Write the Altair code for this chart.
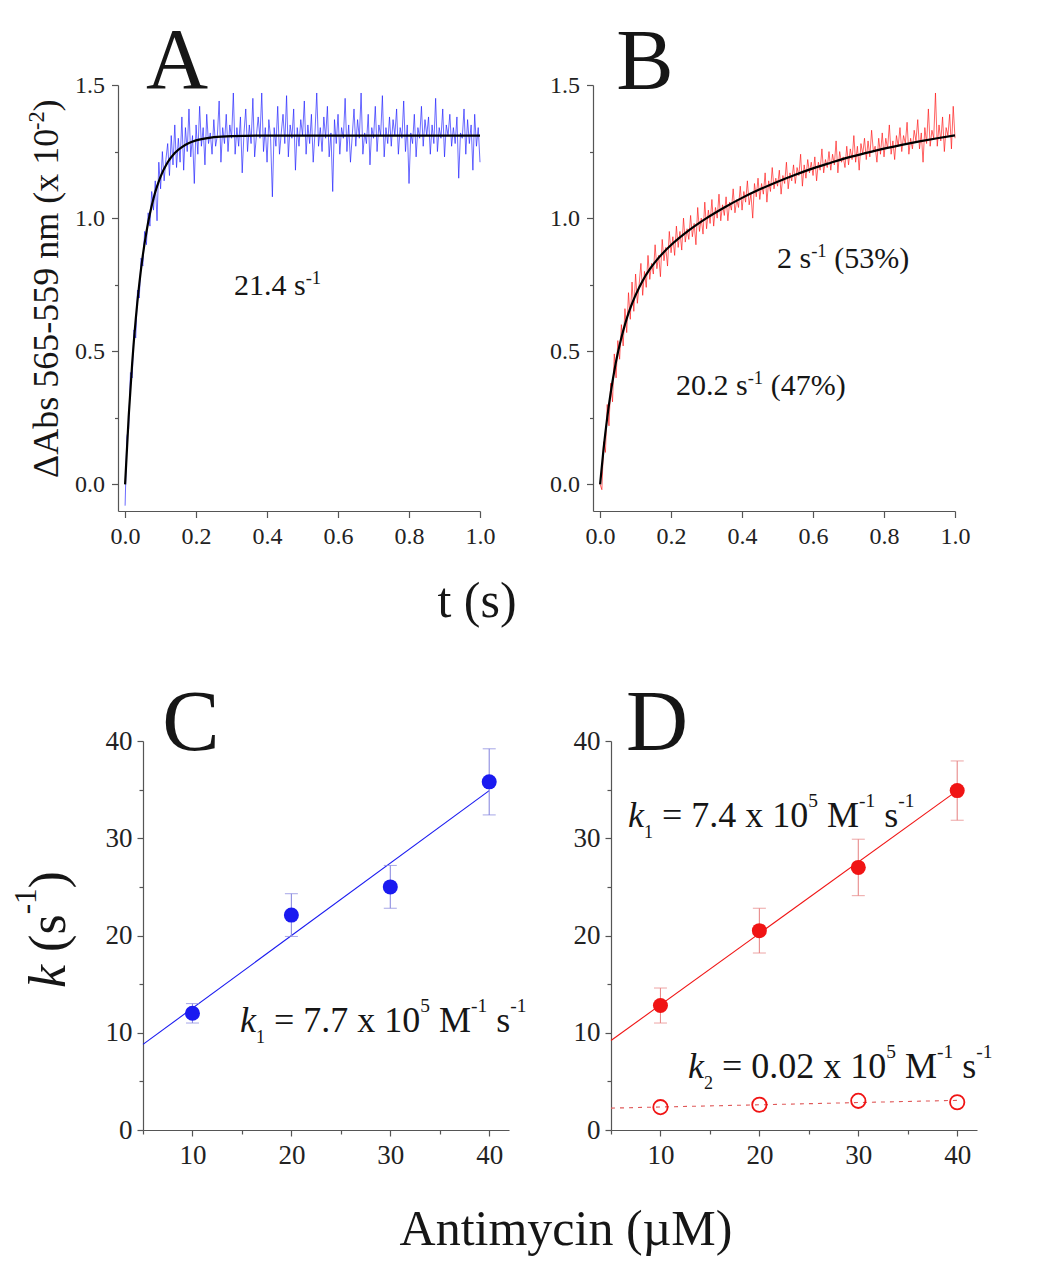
import altair as alt
import pandas as pd

FONT = "Liberation Serif"
INK = "#161616"
AXC = "#555555"

# ---------------- Panel A / B : stopped-flow traces ----------------
TIME = [round(i * 0.005, 3) for i in range(201)]

TRACE_A = [
    -0.08, 0.18, 0.21, 0.42, 0.40, 0.58, 0.55, 0.73, 0.70, 0.85,
    0.82, 0.95, 0.90, 1.02, 0.97, 1.10, 1.03, 1.14, 0.99, 1.21,
    1.11, 1.25, 1.14, 1.22, 1.28, 1.16, 1.31, 1.20, 1.35, 1.19,
    1.30, 1.21, 1.38, 1.18, 1.34, 1.25, 1.41, 1.23, 1.31, 1.13,
    1.35, 1.24, 1.42, 1.27, 1.34, 1.20, 1.39, 1.28, 1.32, 1.24,
    1.37, 1.27, 1.31, 1.44, 1.21, 1.34, 1.28, 1.39, 1.25, 1.35,
    1.30, 1.47, 1.24, 1.34, 1.27, 1.38, 1.17, 1.32, 1.41, 1.25,
    1.35, 1.28, 1.45, 1.23, 1.31, 1.38, 1.30, 1.47, 1.25, 1.34,
    1.21, 1.37, 1.30, 1.08, 1.34, 1.27, 1.42, 1.24, 1.32, 1.39,
    1.28, 1.46, 1.23, 1.35, 1.30, 1.41, 1.18, 1.34, 1.27, 1.37,
    1.31, 1.44, 1.24, 1.35, 1.28, 1.39, 1.21, 1.32, 1.47, 1.27,
    1.34, 1.25, 1.38, 1.30, 1.42, 1.23, 1.32, 1.10, 1.37, 1.28,
    1.39, 1.24, 1.34, 1.30, 1.45, 1.25, 1.35, 1.21, 1.31, 1.41,
    1.27, 1.37, 1.30, 1.47, 1.24, 1.32, 1.28, 1.39, 1.20, 1.34,
    1.30, 1.42, 1.25, 1.35, 1.31, 1.46, 1.23, 1.34, 1.28, 1.38,
    1.27, 1.37, 1.31, 1.41, 1.24, 1.34, 1.30, 1.44, 1.25, 1.35,
    1.13, 1.32, 1.28, 1.39, 1.23, 1.34, 1.30, 1.42, 1.27, 1.37,
    1.31, 1.38, 1.24, 1.35, 1.28, 1.45, 1.25, 1.34, 1.30, 1.41,
    1.23, 1.35, 1.31, 1.39, 1.27, 1.34, 1.28, 1.38, 1.15, 1.32,
    1.30, 1.41, 1.24, 1.37, 1.28, 1.35, 1.18, 1.39, 1.27, 1.34,
    1.21,
]

TRACE_B = [
    0.00, -0.02, 0.16, 0.12, 0.30, 0.22, 0.38, 0.31, 0.49, 0.40,
    0.54, 0.47, 0.60, 0.52, 0.66, 0.57, 0.72, 0.62, 0.76, 0.65,
    0.79, 0.68, 0.75, 0.83, 0.71, 0.80, 0.74, 0.86, 0.77, 0.83,
    0.79, 0.90, 0.81, 0.86, 0.78, 0.92, 0.84, 0.89, 0.82, 0.95,
    0.87, 0.93, 0.86, 0.97, 0.89, 0.95, 0.88, 1.00, 0.91, 0.96,
    0.92, 1.01, 0.93, 0.98, 0.90, 1.04, 0.95, 1.00, 0.94, 1.06,
    0.96, 1.03, 0.98, 1.07, 0.97, 1.04, 1.00, 1.09, 0.99, 1.05,
    1.01, 1.08, 0.99, 1.06, 1.03, 1.11, 1.02, 1.07, 1.04, 1.12,
    1.03, 1.10, 1.06, 1.14, 1.05, 1.09, 1.00, 1.13, 1.08, 1.15,
    1.07, 1.13, 1.09, 1.17, 1.06, 1.14, 1.10, 1.19, 1.11, 1.15,
    1.12, 1.18, 1.09, 1.16, 1.13, 1.21, 1.11, 1.17, 1.14, 1.20,
    1.13, 1.19, 1.16, 1.24, 1.12, 1.20, 1.15, 1.22, 1.17, 1.21,
    1.16, 1.23, 1.14, 1.21, 1.18, 1.26, 1.17, 1.22, 1.19, 1.25,
    1.18, 1.24, 1.20, 1.29, 1.17, 1.25, 1.21, 1.23, 1.19, 1.27,
    1.20, 1.26, 1.22, 1.31, 1.21, 1.27, 1.18, 1.28, 1.24, 1.30,
    1.22, 1.29, 1.23, 1.33, 1.25, 1.27, 1.21, 1.30, 1.24, 1.32,
    1.23, 1.30, 1.26, 1.35, 1.24, 1.29, 1.22, 1.31, 1.27, 1.34,
    1.25, 1.31, 1.28, 1.36, 1.24, 1.30, 1.26, 1.33, 1.29, 1.37,
    1.26, 1.32, 1.21, 1.34, 1.28, 1.41, 1.27, 1.33, 1.30, 1.47,
    1.27, 1.35, 1.29, 1.38, 1.25, 1.34, 1.31, 1.39, 1.26, 1.42,
    1.30,
]

FIT_A_T = [0, 0.01, 0.02, 0.03, 0.04, 0.05, 0.06, 0.07, 0.08, 0.09, 0.10,
           0.12, 0.14, 0.16, 0.18, 0.20, 0.25, 0.30, 0.40, 0.60, 0.80, 1.00]
FIT_A_V = [0, 0.252, 0.456, 0.621, 0.753, 0.861, 0.947, 1.017, 1.074, 1.119, 1.156,
           1.210, 1.245, 1.267, 1.282, 1.292, 1.304, 1.308, 1.310, 1.310, 1.310, 1.310]

FIT_B_T = [0, 0.01, 0.02, 0.03, 0.04, 0.05, 0.06, 0.07, 0.08, 0.09, 0.10,
           0.12, 0.14, 0.16, 0.18, 0.20, 0.25, 0.30, 0.35, 0.40, 0.45, 0.50,
           0.55, 0.60, 0.65, 0.70, 0.75, 0.80, 0.85, 0.90, 0.95, 1.00]
FIT_B_V = [0, 0.136, 0.250, 0.345, 0.426, 0.494, 0.551, 0.600, 0.643, 0.679, 0.711,
           0.765, 0.808, 0.843, 0.873, 0.899, 0.954, 1.000, 1.040, 1.076, 1.108, 1.137,
           1.163, 1.187, 1.208, 1.228, 1.245, 1.261, 1.275, 1.288, 1.300, 1.311]

# ---------------- Panel C / D : rate vs antimycin ----------------
CONC = [10, 20, 30, 40]
C_K = [12.0, 22.1, 25.0, 35.8]
C_ERR = [1.0, 2.2, 2.2, 3.4]
C_FIT_X = [5, 40]
C_FIT_Y = [8.8, 34.9]

D_K1 = [12.8, 20.5, 27.0, 34.9]
D_ERR1 = [1.8, 2.3, 2.9, 3.05]
D_K2 = [2.35, 2.6, 3.0, 2.85]
D_FIT1_X = [5, 40]
D_FIT1_Y = [9.2, 34.9]
D_FIT2_X = [5, 40]
D_FIT2_Y = [2.25, 3.05]

# ---------------- text helpers (Times metrics) ----------------
W = {' ': 0.25, '.': 0.25, '-': 0.333, '(': 0.333, ')': 0.333, '%': 0.833, '=': 0.564,
     'x': 0.5, 's': 0.389, 'M': 0.889, 'n': 0.5, 'm': 0.778, 'A': 0.722, 'b': 0.5,
     'Δ': 0.612, 't': 0.278, 'i': 0.278, 'y': 0.5, 'c': 0.444, 'µ': 0.5, 'k': 0.5}


def tw(s, italic=False):
    tot = 0.0
    for ch in s:
        if italic and ch == 'k':
            tot += 0.444
        else:
            tot += W.get(ch, 0.5)
    return tot


def rich(pieces, x0, y0, size, angle=0, sup_scale=0.62, sup_rise=0.38,
         sub_scale=0.55, sub_drop=0.3, color=INK):
    layers = []
    adv = 0.0
    for text, kind, italic in pieces:
        if kind == 'sup':
            fs, shift = size * sup_scale, -size * sup_rise
        elif kind == 'sub':
            fs, shift = size * sub_scale, size * sub_drop
        else:
            fs, shift = size, 0.0
        stripped = text.lstrip(' ')
        lead = tw(text[:len(text) - len(stripped)]) * fs
        a = adv + lead
        if angle == 0:
            px, py = x0 + a, y0 + shift
        else:
            px, py = x0 + shift, y0 - a
        layers.append(
            alt.Chart(pd.DataFrame({'s': [stripped.rstrip(' ')]}))
            .mark_text(align='left', baseline='alphabetic', font=FONT, fontSize=fs,
                       fontStyle='italic' if italic else 'normal', angle=angle, color=color)
            .encode(x=alt.value(px), y=alt.value(py), text='s:N')
        )
        adv += tw(text, italic) * fs
    return layers


def label(txt, x, y, size, align='center'):
    return (alt.Chart(pd.DataFrame({'s': [txt]}))
            .mark_text(align=align, baseline='alphabetic', font=FONT, fontSize=size, color=INK)
            .encode(x=alt.value(x), y=alt.value(y), text='s:N'))


def axis(values, major_test, fmt, fs, major=6, minor=3.5, pad=6):
    return alt.Axis(
        values=values, title=None, grid=False,
        labelExpr=f"({major_test}) ? format(datum.value, '{fmt}') : ''",
        tickSize={"condition": {"test": major_test, "value": major}, "value": minor},
        labelFont=FONT, labelFontSize=fs, labelColor="#222222", labelPadding=pad,
        labelOverlap=False, labelFlush=False,
        domainColor=AXC, tickColor=AXC, domainWidth=1.2, tickWidth=1.2,
    )


# ---------------- time panels ----------------
TW_, TH_ = 362, 426
X_TIME_VALS = [round(i * 0.1, 1) for i in range(11)]
Y_ABS_VALS = [i * 0.25 for i in range(7)]


def time_panel(trace, fit_t, fit_v, color):
    xs = alt.Scale(domain=[-0.02, 1.0], nice=False, zero=False)
    ys = alt.Scale(domain=[-0.1, 1.5], nice=False, zero=False)
    xax = axis(X_TIME_VALS, "abs(round(datum.value*10)) % 2 == 0", '.1f', 24, major=6.5, minor=3.5, pad=7)
    yax = axis(Y_ABS_VALS, "datum.value % 0.5 == 0", '.1f', 24, major=6.5, minor=3.5, pad=7)
    df = pd.DataFrame({'t': TIME, 'v': trace})
    fdf = pd.DataFrame({'t': fit_t, 'v': fit_v})
    tr = alt.Chart(df).mark_line(color=color, strokeWidth=0.9, opacity=0.72).encode(
        x=alt.X('t:Q', scale=xs, axis=xax), y=alt.Y('v:Q', scale=ys, axis=yax))
    fit = alt.Chart(fdf).mark_line(color='black', strokeWidth=2.2, interpolate='monotone').encode(
        x='t:Q', y='v:Q')
    return [tr, fit]


A_layers = time_panel(TRACE_A, FIT_A_T, FIT_A_V, "#1a1aff")
A_layers += [label("A", 59, 3, 86)]
A_layers += rich([("21.4 s", 'n', False), ("-1", 'sup', False)], 116, 210, 30)
A_layers += rich([("ΔAbs 565-559 nm (x 10", 'n', False), ("-2", 'sup', False), (")", 'n', False)],
                 -60, 393, 36, angle=270)
A_layers += [label("t (s)", 359, 532, 50)]
panelA = alt.layer(*A_layers).properties(width=TW_, height=TH_)

B_layers = time_panel(TRACE_B, FIT_B_T, FIT_B_V, "#ff1010")
B_layers += [label("B", 52, 4, 86)]
B_layers += rich([("2 s", 'n', False), ("-1", 'sup', False), (" (53%)", 'n', False)], 184, 183, 30)
B_layers += rich([("20.2 s", 'n', False), ("-1", 'sup', False), (" (47%)", 'n', False)], 83, 310, 30)
panelB = alt.layer(*B_layers).properties(width=TW_, height=TH_)

# ---------------- rate panels ----------------
RW_, RH_ = 366, 389
X_C_VALS = [5, 10, 15, 20, 25, 30, 35, 40]
Y_K_VALS = [0, 5, 10, 15, 20, 25, 30, 35, 40]


def rate_scales():
    return (alt.Scale(domain=[5, 42], nice=False, zero=False),
            alt.Scale(domain=[0, 40], nice=False))


def rate_axes():
    xax = axis(X_C_VALS, "datum.value % 10 == 0", 'd', 27, major=6, minor=4, pad=6)
    yax = axis(Y_K_VALS, "datum.value % 10 == 0", 'd', 27, major=6, minor=4, pad=5)
    return xax, yax


def rate_series(k, err, fit_x, fit_y, col, err_col, xs, ys, xax, yax):
    df = pd.DataFrame({'c': CONC, 'k': k,
                       'lo': [a - b for a, b in zip(k, err)],
                       'hi': [a + b for a, b in zip(k, err)]})
    fdf = pd.DataFrame({'c': fit_x, 'k': fit_y})
    line = alt.Chart(fdf).mark_line(color=col, strokeWidth=1.1).encode(
        x=alt.X('c:Q', scale=xs, axis=xax), y=alt.Y('k:Q', scale=ys, axis=yax))
    bars = alt.Chart(df).mark_rule(color=err_col, strokeWidth=1.1).encode(
        x='c:Q', y='lo:Q', y2='hi:Q')
    cap_lo = alt.Chart(df).mark_tick(color=err_col, orient='horizontal', size=13, thickness=1.1).encode(
        x='c:Q', y='lo:Q')
    cap_hi = alt.Chart(df).mark_tick(color=err_col, orient='horizontal', size=13, thickness=1.1).encode(
        x='c:Q', y='hi:Q')
    pts = alt.Chart(df).mark_circle(color=col, size=225, opacity=1).encode(x='c:Q', y='k:Q')
    return [line, bars, cap_lo, cap_hi, pts]


KTXT = dict(sup_scale=0.54, sup_rise=0.56, sub_scale=0.5, sub_drop=0.3)

xsC, ysC = rate_scales()
xaC, yaC = rate_axes()
C_layers = rate_series(C_K, C_ERR, C_FIT_X, C_FIT_Y, "#1a1af0", "#8c8ce0", xsC, ysC, xaC, yaC)
C_layers += [label("C", 48, 9, 86)]
C_layers += rich([("k", 'n', True), ("1", 'sub', False), (" = 7.7 x 10", 'n', False), ("5", 'sup', False),
                  (" M", 'n', False), ("-1", 'sup', False), (" s", 'n', False), ("-1", 'sup', False)],
                 97, 291, 36, **KTXT)
C_layers += rich([("k", 'n', True), (" (s", 'n', False), ("-1", 'sup', False), (")", 'n', False)],
                 -78, 247, 52, angle=270, sup_scale=0.6, sup_rise=0.55)
C_layers += [label("Antimycin (µM)", 423, 504, 50)]
panelC = alt.layer(*C_layers).properties(width=RW_, height=RH_)

xsD, ysD = rate_scales()
xaD, yaD = rate_axes()
D_layers = rate_series(D_K1, D_ERR1, D_FIT1_X, D_FIT1_Y, "#f01414", "#e88a8a", xsD, ysD, xaD, yaD)
d2 = pd.DataFrame({'c': CONC, 'k': D_K2})
d2fit = pd.DataFrame({'c': D_FIT2_X, 'k': D_FIT2_Y})
D_layers += [
    alt.Chart(d2fit).mark_line(color="#e05a5a", strokeWidth=1.1, strokeDash=[4, 5]).encode(x='c:Q', y='k:Q'),
    alt.Chart(d2).mark_point(shape='circle', filled=False, color="#f01414", size=205, strokeWidth=1.8,
                             opacity=1).encode(x='c:Q', y='k:Q'),
]
D_layers += [label("D", 46, 9, 86)]
D_layers += rich([("k", 'n', True), ("1", 'sub', False), (" = 7.4 x 10", 'n', False), ("5", 'sup', False),
                  (" M", 'n', False), ("-1", 'sup', False), (" s", 'n', False), ("-1", 'sup', False)],
                 17, 86, 36, **KTXT)
D_layers += rich([("k", 'n', True), ("2", 'sub', False), (" = 0.02 x 10", 'n', False), ("5", 'sup', False),
                  (" M", 'n', False), ("-1", 'sup', False), (" s", 'n', False), ("-1", 'sup', False)],
                 77, 337, 36, **KTXT)
panelD = alt.layer(*D_layers).properties(width=RW_, height=RH_)

spacer = alt.Chart(pd.DataFrame({'a': [0]})).mark_point(opacity=0).encode(
    x=alt.X('a:Q', axis=None), y=alt.Y('a:Q', axis=None)).properties(width=25, height=10)

top = alt.hconcat(panelA, panelB, spacing=113, bounds='flush')
bottom_pair = alt.hconcat(panelC, panelD, spacing=102, bounds='flush')
bottom = alt.hconcat(spacer, bottom_pair, spacing=0, bounds='flush')

chart = (alt.vconcat(top, bottom, spacing=656, bounds='flush')
         .properties(padding={"left": 3, "top": 11, "right": 5, "bottom": 5}, background='white')
         .configure(font=FONT)
         .configure_view(stroke='transparent', strokeWidth=0))

chart.save("out.html", embed_options={"renderer": "svg", "actions": False})
